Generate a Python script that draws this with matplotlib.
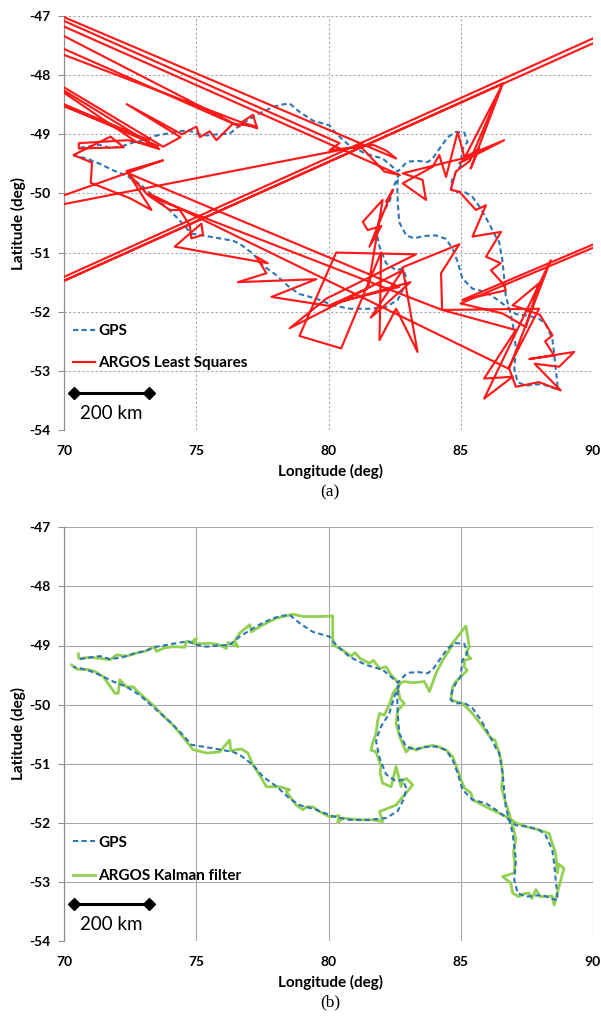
import matplotlib
matplotlib.use("Agg")
import matplotlib.pyplot as plt

plt.rcParams['font.family'] = ['Lato', 'DejaVu Sans']
plt.rcParams['axes.unicode_minus'] = False

# GPS reference track (lon, lat), degrees
gps_track = [
    (70.59, -49.23), (71.0, -49.2), (71.35, -49.18), (71.73, -49.23), (72.2, -49.2),
    (72.6, -49.14), (73.0, -49.1), (73.5, -49.02), (74.0, -48.98), (74.37, -48.95),
    (74.7, -48.93), (75.0, -48.99), (75.38, -49.02), (75.8, -49.0), (76.26, -48.99),
    (76.64, -48.85), (77.14, -48.71), (77.5, -48.62), (77.9, -48.54), (78.2, -48.5),
    (78.53, -48.48), (78.9, -48.62), (79.41, -48.77), (80.04, -48.85), (80.29, -48.99),
    (80.79, -49.19), (81.42, -49.33), (82.05, -49.41), (82.37, -49.53), (82.62, -49.63),
    (82.9, -49.5), (83.06, -49.46), (83.4, -49.45), (83.75, -49.47), (83.94, -49.41),
    (84.19, -49.25), (84.51, -49.05), (84.82, -48.96), (85.14, -48.97), (85.26, -49.13),
    (85.07, -49.25), (85.0, -49.53), (84.82, -49.64), (84.67, -49.78), (84.63, -49.92),
    (84.82, -49.98), (85.14, -49.97), (85.45, -50.06), (85.77, -50.26), (86.08, -50.51),
    (86.34, -50.74), (86.46, -50.82), (86.59, -51.16), (86.65, -51.44), (86.71, -51.73),
    (86.84, -51.95), (86.97, -52.18), (87.03, -52.4), (87.1, -52.63), (87.03, -52.97),
    (87.16, -53.19), (87.47, -53.25), (88.1, -53.22), (88.4, -53.28), (88.66, -53.31),
    (88.66, -53.19), (88.6, -52.97), (88.54, -52.69), (88.47, -52.46), (88.22, -52.21),
    (87.97, -52.12), (87.59, -52.07), (87.09, -52.04), (86.84, -51.95), (86.4, -51.8),
    (85.96, -51.67), (85.45, -51.61), (85.07, -51.44), (84.89, -51.16), (84.7, -50.94),
    (84.45, -50.77), (84.07, -50.71), (83.6, -50.72), (83.25, -50.76), (82.94, -50.71),
    (82.68, -50.49), (82.62, -50.15), (82.6, -49.85), (82.66, -49.68),
    (82.5, -49.85), (82.3, -50.15), (81.95, -50.4), (81.8, -50.62), (81.93, -50.9),
    (82.18, -51.18), (82.56, -51.3), (82.81, -51.27), (82.94, -51.41), (82.87, -51.58),
    (82.62, -51.8), (82.18, -51.92), (81.55, -51.95), (80.79, -51.95), (80.16, -51.89),
    (79.54, -51.78), (78.9, -51.7), (78.53, -51.59), (78.02, -51.38), (77.52, -51.22),
    (77.14, -51.02), (76.64, -50.85), (76.38, -50.8), (75.63, -50.74), (74.81, -50.68),
    (74.44, -50.49), (74.0, -50.29), (73.36, -50.04), (72.86, -49.84), (72.36, -49.7),
    (71.85, -49.61), (71.35, -49.5), (70.85, -49.41), (70.34, -49.36),
]

# ARGOS least squares fixes (some fall outside the plotted window)
ls_track = [
    (62.0, -51.29), (73.74, -49.44), (72.36, -49.62), (73.3, -50.28), (72.48, -50.08),
    (71.0, -49.82), (71.05, -49.48), (70.35, -49.35), (71.75, -49.04), (72.25, -49.22),
    (70.55, -49.24), (70.55, -49.15), (72.4, -49.1), (73.55, -49.2), (62.0, -46.98),
    (73.2, -49.1), (62.0, -47.1), (62.0, -45.87), (72.73, -49.13), (73.6, -49.25),
    (62.0, -46.07), (73.74, -49.21), (74.4, -49.05), (72.36, -48.49), (74.45, -49.0),
    (75.0, -48.87), (75.13, -49.05), (75.5, -48.95), (75.76, -49.1), (76.38, -48.82),
    (77.27, -48.87), (76.7, -48.8), (77.14, -48.67), (77.3, -48.9), (62.0, -46.3),
    (62.0, -45.98), (76.64, -48.87), (62.0, -45.5), (80.42, -49.15), (80.04, -49.27),
    (81.7, -49.18), (82.2, -49.28), (82.56, -49.41), (62.0, -45.5), (62.0, -45.6),
    (82.7, -49.69), (82.11, -49.63), (81.2, -49.2), (62.0, -50.88), (62.0, -53.02),
    (98.0, -45.77), (98.0, -45.86), (62.0, -53.08), (86.6, -48.14), (85.15, -49.4),
    (82.81, -49.66), (83.56, -49.77), (83.69, -50.11), (82.81, -49.83), (83.94, -49.55),
    (84.19, -49.35), (84.45, -49.72), (84.89, -48.96), (85.14, -49.38), (86.65, -49.1),
    (84.95, -49.49), (85.7, -49.24), (85.38, -49.58), (86.6, -48.14), (85.35, -49.45),
    (84.82, -49.63), (84.63, -49.94), (84.95, -49.97), (85.58, -50.28), (85.96, -50.2),
    (85.45, -50.73), (86.53, -50.65), (85.96, -51.07), (86.52, -51.18), (86.15, -51.3),
    (86.65, -51.55), (86.71, -51.64), (85.07, -51.8), (98.0, -49.35), (98.0, -49.42),
    (85.0, -51.86), (86.59, -52.03), (87.47, -52.26), (87.97, -51.52), (86.97, -51.89),
    (88.0, -52.05), (88.48, -52.4), (88.2, -52.5), (88.54, -52.74), (87.6, -52.8),
    (89.3, -52.68), (88.73, -52.93), (87.8, -52.88), (88.79, -53.33), (87.97, -53.19),
    (87.09, -53.27), (86.84, -52.96), (88.41, -51.13), (85.89, -53.47), (86.97, -53.1),
    (85.89, -53.13), (87.09, -52.31), (84.3, -51.97), (87.97, -51.95),
    (86.8, -52.96), (73.2, -50.0), (73.5, -50.1), (84.3, -51.97), (84.26, -51.35),
    (84.95, -50.86), (82.8, -51.25), (83.37, -52.68), (82.56, -51.95), (81.93, -52.48),
    (81.99, -51.0), (80.48, -52.62), (78.9, -52.41), (80.29, -51.0), (83.31, -51.03),
    (79.91, -51.78), (78.53, -52.28), (82.8, -51.3), (81.6, -52.1), (83.1, -51.5),
    (80.3, -51.85), (82.68, -51.58), (72.42, -49.66), (73.17, -50.03),
    (74.0, -50.28), (74.37, -50.28), (74.75, -50.54), (74.81, -50.76), (75.25, -50.7),
    (75.19, -50.51), (74.18, -50.9), (77.7, -51.18), (77.27, -51.07), (77.65, -51.35),
    (76.57, -51.5), (79.54, -51.45), (77.84, -51.75), (80.0, -51.9), (81.5, -51.6),
    (82.05, -50.11), (81.3, -50.48), (81.48, -50.62), (82.0, -50.55), (81.55, -50.9),
    (82.43, -49.94), (82.18, -50.14),
]

# ARGOS Kalman filter track
kf_track = [
    (70.53, -49.14), (70.55, -49.22), (71.0, -49.2), (71.35, -49.22), (71.73, -49.24),
    (71.98, -49.16), (72.36, -49.18), (72.8, -49.12), (73.11, -49.09), (73.4, -49.02),
    (73.49, -49.1), (73.8, -49.04), (74.12, -49.02), (74.56, -49.03), (74.62, -48.93),
    (74.8, -48.95), (75.0, -48.88), (74.9, -48.97), (75.2, -48.97), (75.5, -48.96),
    (75.88, -48.99), (76.13, -49.05), (76.2, -48.95), (76.57, -49.02), (76.45, -48.92),
    (76.64, -48.79), (77.02, -48.65), (77.08, -48.77), (77.52, -48.65), (78.02, -48.54),
    (78.4, -48.5), (78.65, -48.47), (79.03, -48.51), (79.66, -48.51), (80.16, -48.5),
    (80.16, -48.99), (80.54, -49.08), (80.86, -49.18), (81.0, -49.12), (81.2, -49.22),
    (81.55, -49.3), (81.7, -49.25), (81.93, -49.39), (82.18, -49.36), (82.37, -49.5),
    (82.68, -49.64), (82.87, -49.61), (83.19, -49.63), (83.63, -49.61), (83.82, -49.78),
    (84.07, -49.47), (84.32, -49.25), (84.7, -48.99), (84.6, -49.02), (85.2, -48.67),
    (85.33, -49.02), (85.2, -49.13), (85.39, -49.22), (85.15, -49.25), (85.14, -49.36),
    (85.25, -49.42), (85.07, -49.5), (84.82, -49.61), (84.7, -49.7), (84.63, -49.92),
    (84.85, -49.95), (85.07, -49.98), (85.45, -50.15), (85.83, -50.37), (86.15, -50.57),
    (86.3, -50.6), (86.46, -50.82), (86.53, -50.94), (86.6, -51.2), (86.55, -51.4),
    (86.71, -51.67), (86.84, -51.84), (86.9, -51.95), (87.0, -52.1), (87.09, -52.28),
    (87.0, -52.5), (87.05, -52.7), (87.03, -52.85), (86.59, -52.91), (86.9, -53.02),
    (86.97, -53.19), (87.2, -53.25), (87.4, -53.2), (87.59, -53.19), (87.7, -53.28),
    (87.85, -53.13), (88.0, -53.25), (88.47, -53.24), (88.54, -53.39), (88.66, -53.19),
    (88.79, -52.97), (88.91, -52.77), (88.72, -52.7), (88.66, -52.85), (88.6, -52.52),
    (88.47, -52.35), (88.35, -52.18), (87.97, -52.12), (87.6, -52.08), (87.09, -52.0),
    (86.84, -51.92), (86.46, -51.84), (85.96, -51.73), (85.45, -51.61), (85.4, -51.5),
    (85.14, -51.41), (85.0, -51.25), (84.89, -51.11), (84.7, -50.88), (84.45, -50.77),
    (84.2, -50.72), (83.94, -50.69), (83.6, -50.72), (83.31, -50.77), (83.1, -50.72),
    (82.94, -50.8), (82.7, -50.55), (82.56, -50.32), (82.62, -50.1), (82.87, -49.98),
    (82.7, -49.9), (82.62, -49.7), (82.75, -49.62), (82.45, -49.8), (82.3, -50.0),
    (82.11, -50.18), (81.93, -50.15), (81.85, -50.3), (81.8, -50.49), (81.67, -50.65),
    (81.61, -50.77), (81.8, -50.8), (81.99, -51.05), (81.95, -51.15), (82.05, -51.33),
    (82.37, -51.39), (82.56, -51.05), (82.75, -51.39), (82.81, -51.28), (82.95, -51.25),
    (83.19, -51.36), (82.81, -51.56), (82.56, -51.7), (81.93, -51.81), (82.05, -51.98),
    (81.7, -51.95), (81.17, -51.95), (80.54, -51.92), (80.35, -52.0), (80.4, -51.88),
    (80.04, -51.9), (79.66, -51.81), (79.41, -51.73), (79.16, -51.73), (79.03, -51.78),
    (78.78, -51.7), (78.4, -51.47), (78.53, -51.44), (78.15, -51.39), (77.65, -51.39),
    (77.4, -51.2), (77.14, -51.02), (76.95, -50.82), (76.7, -50.75), (76.3, -50.78),
    (76.26, -50.6), (75.88, -50.8), (75.38, -50.82), (74.87, -50.76), (74.44, -50.52),
    (74.12, -50.35), (73.93, -50.27), (73.36, -50.01), (72.73, -49.76), (72.61, -49.7),
    (72.36, -49.7), (72.1, -49.58), (72.04, -49.81), (71.92, -49.81), (71.48, -49.53),
    (71.16, -49.44), (70.91, -49.41), (70.47, -49.4), (70.28, -49.33),
]

scale_lon = [70.35, 73.2]
scale_lat = [-53.38, -53.38]
x_ticks = [70, 75, 80, 85, 90]
y_ticks = [-54, -53, -52, -51, -50, -49, -48, -47]

GPS_BLUE = '#2E75B6'
LS_RED = '#FF1A1A'
KF_GREEN = '#92D050'

W, H = 601, 1017
fig = plt.figure(figsize=(W / 100, H / 100), dpi=100)


def setup_axes(ax, grid_style):
    ax.set_xlim(70, 90)
    ax.set_ylim(-54, -47)
    ax.set_xticks(x_ticks)
    ax.set_yticks(y_ticks)
    ax.set_xticklabels([str(t) for t in x_ticks], fontweight='bold', fontsize=10)
    ax.set_yticklabels([str(t) for t in y_ticks], fontweight='bold', fontsize=10)
    ax.tick_params(axis='x', length=0, pad=11)
    ax.tick_params(axis='y', length=4, width=0.8, color='#909090', pad=6)
    ax.grid(True, color='#A8A8A8', linewidth=0.8, linestyle=grid_style)
    ax.set_axisbelow(True)
    for side in ['top', 'right', 'bottom']:
        ax.spines[side].set_visible(False)
    ax.spines['left'].set_color('#909090')
    ax.spines['left'].set_linewidth(0.9)
    # scale bar
    ax.plot(scale_lon, scale_lat, color='black', linewidth=2.2, marker='D',
            markersize=6, zorder=5)
    ax.text(sum(scale_lon) / 2, -53.72, '200 km', ha='center', va='center',
            fontsize=13.5)


def px_axes(top, bottom):
    return [64.3 / W, 1 - bottom / H, (592.7 - 64.3) / W, (bottom - top) / H]


gx, gy = zip(*gps_track)
lx, ly = zip(*ls_track)
kx, ky = zip(*kf_track)

# (a) least squares
ax1 = fig.add_axes(px_axes(16, 430))
setup_axes(ax1, (0, (2, 2)))
ax1.plot(gx, gy, color=GPS_BLUE, linewidth=1.5, linestyle=(0, (2.5, 1.6)),
         label='GPS', zorder=3)
ax1.plot(lx, ly, color=LS_RED, linewidth=1.55, label='ARGOS Least Squares', zorder=4)
ax1.legend(loc='upper left', bbox_to_anchor=(0.016, 0.255), frameon=False,
           prop={'weight': 'bold', 'size': 11}, handlelength=1.45,
           handletextpad=0.2, labelspacing=1.15, borderpad=0, borderaxespad=0)

# (b) Kalman filter
ax2 = fig.add_axes(px_axes(527.3, 941))
setup_axes(ax2, '-')
ax2.plot(gx, gy, color=GPS_BLUE, linewidth=1.5, linestyle=(0, (2.5, 1.6)),
         label='GPS', zorder=4)
ax2.plot(kx, ky, color=KF_GREEN, linewidth=2.0, label='ARGOS Kalman filter', zorder=3)
ax2.legend(loc='upper left', bbox_to_anchor=(0.016, 0.255), frameon=False,
           prop={'weight': 'bold', 'size': 11}, handlelength=1.45,
           handletextpad=0.2, labelspacing=1.3, borderpad=0, borderaxespad=0)

for y_lon, y_cap, cap in [(471, 492, '(a)'), (982, 1002, '(b)')]:
    fig.text(330 / W, 1 - y_lon / H, 'Longitude (deg)', ha='center', va='center',
             fontsize=11, fontweight='bold')
    fig.text(330 / W, 1 - y_cap / H, cap, ha='center', va='center',
             fontsize=12.5, family='Liberation Serif')

for y_lat in [223, 734]:
    fig.text(18 / W, 1 - y_lat / H, 'Latitude (deg)', ha='center', va='center',
             rotation=90, fontsize=11, fontweight='bold')

fig.savefig('out.png', dpi=100)
